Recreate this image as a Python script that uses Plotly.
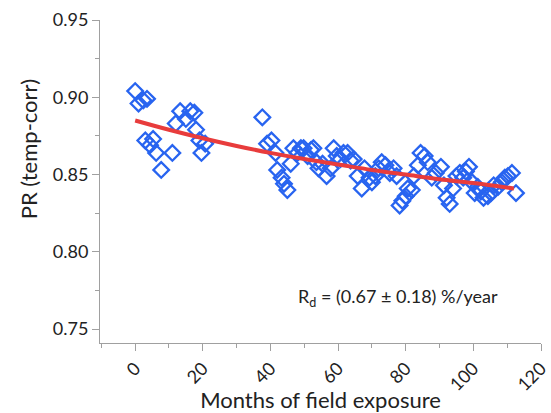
import plotly.graph_objects as go

months = [0, 1, 2.4, 3.5, 3, 4.4, 5.3, 6.2, 7.7, 11, 12, 13.3, 15, 16.3, 17.5, 18, 19, 19.6, 20.7,
          37.6, 39, 40.3, 41.5, 42, 43.3, 44, 45, 46, 46.8, 48, 49, 49.8, 51, 52, 52.7, 53.6, 54.2,
          55.4, 56.6, 57.8, 58.7, 59.6, 60.7, 61.6, 62.8, 63.7, 64.6, 65.8, 67, 67.8, 69.3, 70, 71,
          72, 72.9, 74, 75.3, 76.4, 77.3, 78.2, 79, 80, 80.6, 81.8, 82.4, 83.6, 84.4, 85.6, 86.5,
          87.7, 88.9, 90.4, 91.3, 92.1, 93, 94, 95, 96, 97, 97.8, 98.7, 99.6, 100.4, 101.3, 102.2,
          103, 104.3, 105.2, 106, 107.3, 108.4, 109.3, 110.2, 111.4, 112.6]
pr = [0.904, 0.896, 0.898, 0.899, 0.872, 0.869, 0.873, 0.864, 0.853, 0.864, 0.883, 0.891, 0.886,
      0.891, 0.890, 0.879, 0.872, 0.864, 0.870,
      0.887, 0.870, 0.872, 0.864, 0.853, 0.848, 0.844, 0.840, 0.857, 0.867, 0.864, 0.867, 0.867,
      0.862, 0.866, 0.867, 0.858, 0.854, 0.857, 0.849, 0.854, 0.867, 0.862, 0.860, 0.864, 0.864,
      0.859, 0.860, 0.849, 0.841, 0.854, 0.848, 0.845, 0.849, 0.854, 0.858, 0.856, 0.851, 0.854,
      0.849, 0.830, 0.833, 0.836, 0.841, 0.840, 0.849, 0.856, 0.864, 0.862, 0.858, 0.848, 0.851,
      0.855, 0.843, 0.835, 0.831, 0.841, 0.849, 0.851, 0.848, 0.852, 0.855, 0.845, 0.838, 0.842,
      0.839, 0.835, 0.836, 0.838, 0.843, 0.842, 0.845, 0.848, 0.849, 0.851, 0.838]

fit_months = [0, 10, 20, 30, 40, 50, 60, 70, 80, 90, 100, 112]
fit_pr = [0.885, 0.879, 0.8735, 0.8685, 0.864, 0.860, 0.8565, 0.853, 0.850, 0.847, 0.8445, 0.841]

x_ticks = [0, 20, 40, 60, 80, 100, 120]
y_ticks = [0.75, 0.80, 0.85, 0.90, 0.95]
y_tick_text = ["0.75", "0.80", "0.85", "0.90", "0.95"]

FONT = "Lato, Open Sans, sans-serif"
TXT = "#222222"

fig = go.Figure()
fig.add_trace(go.Scatter(
    x=months, y=pr, mode="markers",
    marker=dict(symbol="diamond-open", size=12, color="rgb(40,100,240)",
                line=dict(width=2.3, color="rgb(40,100,240)")),
    showlegend=False))
fig.add_trace(go.Scatter(
    x=fit_months, y=fit_pr, mode="lines",
    line=dict(color="rgb(232,60,60)", width=4, shape="spline"),
    showlegend=False))

fig.add_annotation(x=0.675, y=0.142, xref="paper", yref="paper", xanchor="center", yanchor="middle",
                   text="R<sub>d</sub> = (0.67 ± 0.18) %/year", showarrow=False,
                   font=dict(family=FONT, size=18, color=TXT))
fig.add_annotation(x=-0.163, y=0.6, xref="paper", yref="paper", xanchor="center", yanchor="middle",
                   text="PR (temp-corr)", textangle=-90, showarrow=False,
                   font=dict(family=FONT, size=22, color=TXT))

axis_common = dict(showline=True, linecolor="#a0a0a0", linewidth=1, ticks="outside",
                   tickcolor="#a0a0a0", ticklen=7, showgrid=False, zeroline=False,
                   mirror=False, automargin=False)

fig.update_xaxes(range=[-10.4, 120], tickvals=x_ticks, tickangle=-45,
                 tickfont=dict(family=FONT, size=18, color=TXT),
                 title=dict(text="Months of field exposure", standoff=5,
                            font=dict(family=FONT, size=22, color=TXT)),
                 minor=dict(dtick=10, tick0=0, ticks="outside", ticklen=4, tickcolor="#a0a0a0"),
                 **axis_common)
fig.update_yaxes(range=[0.741, 0.95], tickvals=y_ticks, ticktext=y_tick_text,
                 tickfont=dict(family=FONT, size=18, color=TXT),
                 minor=dict(dtick=0.025, tick0=0.75, ticks="outside", ticklen=4, tickcolor="#a0a0a0"),
                 **axis_common)

fig.update_layout(width=551, height=413, margin=dict(l=100, r=10, t=20, b=70),
                  plot_bgcolor="white", paper_bgcolor="white",
                  font=dict(family=FONT))

fig.write_html("out.html")
